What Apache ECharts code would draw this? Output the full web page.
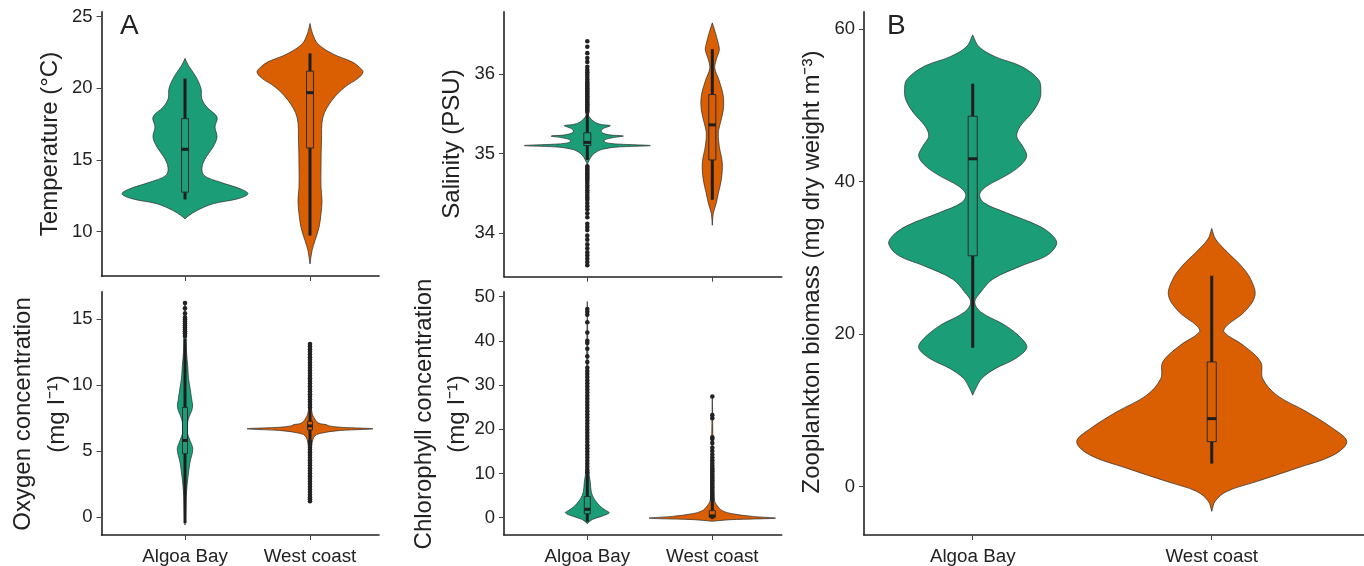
<!DOCTYPE html>
<html lang="en">
<head>
<meta charset="utf-8">
<title>Violin plots</title>
<script src="https://cdn.jsdelivr.net/npm/echarts@6/dist/echarts.min.js"></script>
<style>
  html, body { margin: 0; padding: 0; background: #fff; }
  #main { width: 1364px; height: 566px; }
</style>
</head>
<body>
<div id="main"></div>
<script>
// categories
var cats = ['Algoa Bay', 'West coast'];

// temperature (°C): violin outline = value + half width (category units)
var tempAlgoaY = [10.9, 11.13, 11.48, 11.95, 12.3, 12.65, 13.0, 13.46, 13.93, 14.5, 15.2, 15.9, 16.6, 17.3, 18.0, 18.7, 19.29, 19.99, 20.8, 21.62, 22.09];
var tempAlgoaW = [0, .032, .096, .224, .424, .504, .44, .28, .152, .136, .168, .224, .256, .24, .256, .174, .134, .128, .088, .026, 0];
var tempWestY = [7.75, 8.67, 9.38, 10.3, 11.25, 12.18, 13.1, 14.5, 16.38, 18.0, 19.17, 20.1, 20.7, 21.15, 21.5, 21.85, 22.4, 23.1, 23.83, 24.53];
var tempWestW = [0, .016, .04, .072, .088, .096, .088, .088, .092, .104, .176, .28, .384, .424, .392, .336, .184, .064, .02, 0];
// box stats: [lower whisker, q1, median, q3, upper whisker]
var tempBoxAlgoa = [12.25, 12.76, 15.75, 17.89, 20.69];
var tempBoxWest = [9.73, 15.84, 19.7, 21.2, 22.44];

// oxygen (mg l-1)
var oxyAlgoaY = [-0.6, 0.5, 1.65, 2.9, 4.15, 5.15, 5.8, 6.4, 7.0, 7.4, 8.3, 9.0, 9.67, 10.5, 11.4, 12.5, 14.0, 15.5, 16.3];
var oxyAlgoaW = [0, .006, .01, .022, .04, .062, .04, .018, .02, .026, .06, .052, .042, .028, .022, .012, .008, .006, 0];
var oxyWestY = [1.2, 3.0, 4.5, 5.6, 6.16, 6.36, 6.54, 6.68, 6.8, 6.9, 7.0, 7.1, 7.4, 7.9, 9.0, 11.0, 13.1];
var oxyWestW = [0, .004, .006, .016, .04, .096, .224, .504, .24, .152, .128, .072, .04, .016, .006, .004, 0];
var oxyBoxAlgoa = [-0.45, 4.8, 5.8, 8.3, 13.5];
var oxyBoxWest = [5.8, 6.6, 6.9, 7.25, 8.2];
var oxyOutAlgoa = [13.7, 13.9, 14.05, 14.2, 14.35, 14.5, 14.65, 14.8, 14.95, 15.1, 15.4, 15.8, 16.2];
var oxyOutWest = [1.2, 1.35, 1.5, 1.7, 1.9, 2.1, 2.3, 2.5, 2.7, 2.9, 3.1, 3.3, 3.5, 3.7, 3.9, 4.1, 4.3, 4.5, 4.7, 4.9, 5.1, 5.3, 5.5, 5.7,
                  8.3, 8.5, 8.7, 8.9, 9.1, 9.3, 9.5, 9.7, 9.9, 10.1, 10.3, 10.5, 10.7, 10.9, 11.1, 11.3, 11.5, 11.7, 11.9, 12.1, 12.3, 12.5, 12.7, 12.9, 13.1];

// salinity (PSU)
var salAlgoaY = [34.86, 34.92, 34.98, 35.02, 35.05, 35.08, 35.10, 35.12, 35.14, 35.17, 35.2, 35.22, 35.235, 35.26, 35.29, 35.32, 35.35, 35.365, 35.39, 35.43, 35.47, 35.52];
var salAlgoaW = [0, .016, .04, .072, .112, .224, .504, .24, .144, .136, .208, .288, .176, .12, .112, .136, .184, .112, .064, .032, .012, 0];
var salWestY = [34.1, 34.25, 34.38, 34.5, 34.67, 34.88, 35.09, 35.26, 35.38, 35.55, 35.72, 35.92, 36.07, 36.18, 36.3, 36.38, 36.51, 36.64];
var salWestW = [0, .008, .032, .048, .072, .08, .056, .048, .064, .088, .088, .054, .02, .032, .056, .048, .026, 0];
var salBoxAlgoa = [34.92, 35.10, 35.14, 35.26, 35.5];
var salBoxWest = [34.42, 34.92, 35.36, 35.74, 36.31];
var salOutAlgoa = [36.41, 36.34, 36.26, 36.2, 36.15, 36.09, 36.05, 36.02, 35.99, 35.96, 35.93, 35.9, 35.88, 35.86, 35.84, 35.82, 35.8, 35.78,
                   35.76, 35.74, 35.72, 35.7, 35.68, 35.66, 35.64, 35.62, 35.6, 35.58, 35.56, 35.54, 35.52,
                   34.84, 34.82, 34.8, 34.78, 34.76, 34.74, 34.72, 34.7, 34.68, 34.66, 34.63, 34.6, 34.57, 34.54, 34.51, 34.48, 34.45,
                   34.42, 34.38, 34.34, 34.3, 34.25, 34.2, 34.12, 34.08, 34.04, 33.97, 33.92, 33.86, 33.81, 33.76, 33.72, 33.68, 33.64, 33.6];

// chlorophyll (mg l-1)
var chlAlgoaY = [-1.35, -0.4, 0.3, 1.1, 1.6, 2.2, 2.8, 3.6, 4.4, 5.8, 8.0, 9.5, 12, 20, 35, 48.9];
var chlAlgoaW = [0, .04, .112, .176, .152, .12, .096, .072, .052, .032, .024, .016, .008, .006, .005, 0];
var chlWestY = [-0.8, -0.45, -0.1, 0.3, 0.9, 1.6, 2.7, 4.0, 8.0, 15.0, 27.7];
var chlWestW = [0, .144, .504, .32, .16, .08, .04, .016, .008, .006, 0];
var chlBoxAlgoa = [-0.9, 0.9, 1.9, 4.8, 9.8];
var chlBoxWest = [-0.3, 0.1, 0.4, 1.6, 3.9];
var chlOutAlgoa = [10.2, 10.8, 11.5, 12.2, 12.9, 13.6, 14.3, 15, 15.7, 16.4, 17.1, 17.8, 18.5, 19.2, 19.9, 20.6, 21.3, 22, 22.7, 23.4,
                   24.1, 24.8, 25.5, 26.2, 26.9, 27.6, 28.3, 29, 29.7, 30.4, 31.1, 31.8, 32.5, 33.2, 33.9, 35.2, 36.5, 38.2, 39.5, 40.0,
                   41.9, 44.2, 45.9, 46.6, 47.2];
var chlOutWest = [4.1, 4.5, 4.9, 5.3, 5.7, 6.1, 6.5, 6.9, 7.3, 7.7, 8.1, 8.5, 8.9, 9.3, 9.7, 10.1, 10.5, 10.9, 11.3, 11.8, 12.4, 13.0,
                  13.6, 14.3, 15.1, 15.8, 16.9, 17.8, 18.2, 22.5, 23.2, 27.4];

// zooplankton biomass (mg dry weight m-3)
var zooAlgoaY = [11.98, 12.85, 14.16, 15.46, 16.8, 18.2, 19.4, 21.1, 22.9, 24.2, 25.5, 27.2, 28.97, 30.3, 31.8, 32.9, 34.2, 35.95,
                 37.25, 38.34, 39.4, 40.73, 42.04, 43.35, 44.65, 45.96, 47.27, 49.0, 50.76, 52.06, 53.37, 55.1, 56.4, 57.7, 59.25];
var zooAlgoaW = [0, .0126, .0377, .0941, .18, .226, .205, .138, .0335, .0084, .0335, .0837, .205, .31, .351, .335, .276, .138,
                 .046, .029, .0586, .136, .197, .226, .209, .184, .199, .247, .28, .285, .276, .205, .094, .026, 0];
var zooWestY = [-3.27, -1.96, -0.65, 0.65, 2.4, 4.13, 5.88, 7.63, 9.8, 11.98, 14.16, 16.34, 18.5, 20.26, 21.1, 22.88, 25.05, 27.2, 28.97, 30.7, 32.46, 33.85];
var zooWestW = [0, .0138, .0628, .188, .356, .51, .565, .506, .397, .272, .213, .205, .133, .0515, .0628, .136, .181, .163, .123, .067, .0159, 0];
var zooBoxAlgoa = [18.2, 30.27, 43.0, 48.58, 52.85];
var zooBoxWest = [3.0, 5.88, 8.9, 16.34, 27.66];

var GREEN = '#1b9e77';
var ORANGE = '#d95f02';
var INK = '#1e1e1e';
var FONT = '"Liberation Sans", Arial, sans-serif';

// panel layout
var panels = [
    {grid: {left: 101.5, top: 11.7, width: 277.5, height: 264.3}, x: [0.332, 2.552], y: [6.91, 25.35], ticks: [10, 15, 20, 25], xlab: false, bh: 0.028,
     v: [[tempAlgoaY, tempAlgoaW, tempBoxAlgoa, []], [tempWestY, tempWestW, tempBoxWest, []]]},
    {grid: {left: 101.5, top: 291.7, width: 277.5, height: 245}, x: [0.332, 2.552], y: [-1.35, 17.05], ticks: [0, 5, 10, 15], xlab: true, bh: 0.02,
     v: [[oxyAlgoaY, oxyAlgoaW, oxyBoxAlgoa, oxyOutAlgoa], [oxyWestY, oxyWestW, oxyBoxWest, oxyOutWest]]},
    {grid: {left: 504, top: 11.7, width: 277.7, height: 265}, x: [0.3336, 2.5552], y: [33.455, 36.78], ticks: [34, 35, 36], xlab: false, bh: 0.028,
     v: [[salAlgoaY, salAlgoaW, salBoxAlgoa, salOutAlgoa], [salWestY, salWestW, salBoxWest, []]]},
    {grid: {left: 504, top: 291.7, width: 277.7, height: 245}, x: [0.3336, 2.5552], y: [-3.91, 51.12], ticks: [0, 10, 20, 30, 40, 50], xlab: true, bh: 0.024,
     v: [[chlAlgoaY, chlAlgoaW, chlBoxAlgoa, chlOutAlgoa], [chlWestY, chlWestW, chlBoxWest, chlOutWest]]},
    {grid: {left: 864, top: 11.7, width: 500, height: 525.3}, x: [0.5452, 2.637], y: [-6.37, 62.3], ticks: [0, 20, 40, 60], xlab: true, bh: 0.019,
     v: [[zooAlgoaY, zooAlgoaW, zooBoxAlgoa, []], [zooWestY, zooWestW, zooBoxWest, []]]}
];

var grids = [], xAxes = [], yAxes = [], series = [];

panels.forEach(function (p, i) {
    grids.push(p.grid);
    xAxes.push({
        gridIndex: i, type: 'value', min: p.x[0], max: p.x[1],
        axisLine: {show: true, onZero: false, lineStyle: {color: '#222', width: 1.6}},
        axisTick: {show: true, customValues: [1, 2], length: 5, lineStyle: {color: '#444'}},
        axisLabel: {show: p.xlab, customValues: [1, 2], margin: 12, fontSize: 18.8, color: '#222', fontFamily: FONT,
            formatter: function (v) { return cats[Math.round(v) - 1]; }},
        splitLine: {show: false}
    });
    yAxes.push({
        gridIndex: i, type: 'value', min: p.y[0], max: p.y[1],
        axisLine: {show: true, onZero: false, lineStyle: {color: '#222', width: 1.6}},
        axisTick: {show: true, customValues: p.ticks, length: 5, lineStyle: {color: '#444'}},
        axisLabel: {customValues: p.ticks, margin: 9, fontSize: 18.5, color: '#222', fontFamily: FONT},
        splitLine: {show: false}
    });

    var colors = [GREEN, ORANGE];
    series.push({
        type: 'custom', xAxisIndex: i, yAxisIndex: i,
        data: [[1, p.v[0][2][2]], [2, p.v[1][2][2]]],
        renderItem: function (params, api) {
            var k = params.dataIndex;
            var ys = p.v[k][0], ws = p.v[k][1], b = p.v[k][2];
            var xc = k + 1, pts = [], j;
            for (j = 0; j < ys.length; j++) pts.push(api.coord([xc + ws[j], ys[j]]));
            for (j = ys.length - 1; j >= 0; j--) pts.push(api.coord([xc - ws[j], ys[j]]));
            var tl = api.coord([xc - p.bh, b[3]]);
            var br = api.coord([xc + p.bh, b[1]]);
            var lo = api.coord([xc, b[0]]), hi = api.coord([xc, b[4]]);
            var q1 = api.coord([xc, b[1]]), q3 = api.coord([xc, b[3]]);
            var md = api.coord([xc, b[2]]);
            return {
                type: 'group',
                children: [
                    {type: 'polygon', shape: {points: pts, smooth: 0.35},
                     style: {fill: colors[k], stroke: '#2a2a2a', lineWidth: 0.7}},
                    {type: 'line', shape: {x1: lo[0], y1: lo[1], x2: q1[0], y2: q1[1]}, style: {stroke: INK, lineWidth: 3}},
                    {type: 'line', shape: {x1: q3[0], y1: q3[1], x2: hi[0], y2: hi[1]}, style: {stroke: INK, lineWidth: 3}},
                    {type: 'rect', shape: {x: tl[0], y: tl[1], width: br[0] - tl[0], height: br[1] - tl[1]},
                     style: {fill: colors[k], stroke: '#2a2a2a', lineWidth: 1}},
                    {type: 'line', shape: {x1: tl[0], y1: md[1], x2: br[0], y2: md[1]}, style: {stroke: INK, lineWidth: 3}}
                ]
            };
        },
        silent: true, animation: false
    });

    // outlier points
    var pts = [];
    p.v.forEach(function (vv, k) {
        vv[3].forEach(function (val) { pts.push([k + 1, val]); });
    });
    series.push({
        type: 'scatter', xAxisIndex: i, yAxisIndex: i, data: pts,
        symbolSize: 4.6, itemStyle: {color: '#222', opacity: 1}, silent: true, animation: false
    });
});

function vtext(x, y, txt) {
    return {type: 'text', x: x, y: y, rotation: Math.PI / 2,
        style: {text: txt, fontSize: 24, fontFamily: FONT, fill: '#222', align: 'center', verticalAlign: 'middle'}};
}

var option = {
    animation: false,
    grid: grids,
    xAxis: xAxes,
    yAxis: yAxes,
    series: series,
    graphic: [
        vtext(50, 144, 'Temperature (°C)'),
        vtext(23, 414, 'Oxygen concentration'),
        vtext(57, 414, '(mg l⁻¹)'),
        vtext(452, 144, 'Salinity (PSU)'),
        vtext(424, 414, 'Chlorophyll concentration'),
        vtext(457, 414, '(mg l⁻¹)'),
        vtext(812, 272, 'Zooplankton biomass (mg dry weight m⁻³)'),
        {type: 'text', x: 120, y: 26, style: {text: 'A', fontSize: 28, fontFamily: FONT, fill: '#222', verticalAlign: 'middle'}},
        {type: 'text', x: 887, y: 26, style: {text: 'B', fontSize: 28, fontFamily: FONT, fill: '#222', verticalAlign: 'middle'}}
    ]
};

var chart = echarts.init(document.getElementById('main'));
chart.setOption(option);
</script>
</body>
</html>
